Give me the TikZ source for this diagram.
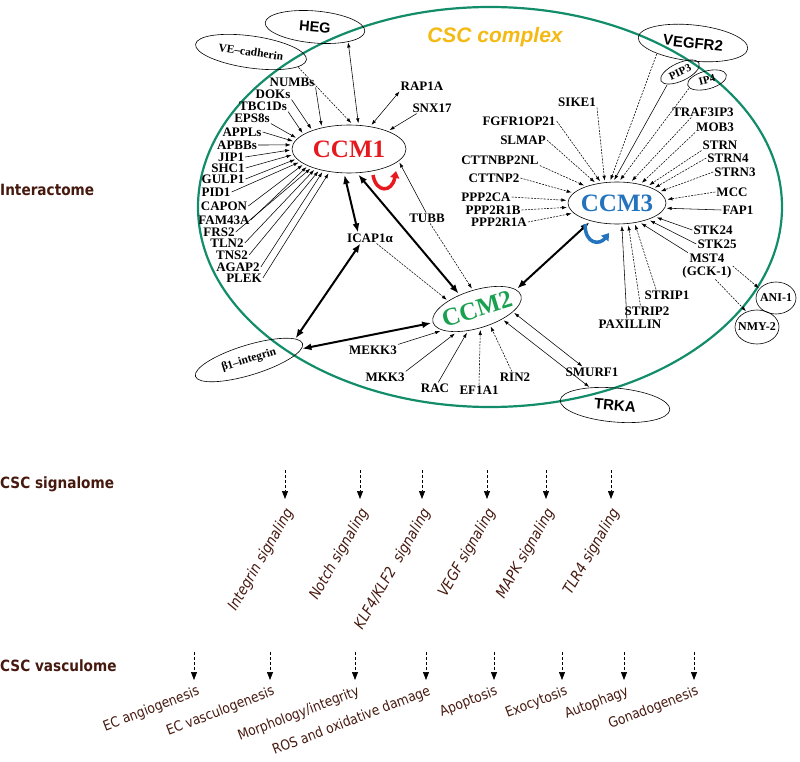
\documentclass[tikz,border=0pt]{standalone}
\usepackage{fontspec}
\setmainfont{Liberation Serif}
\newfontfamily\arialfont{Liberation Sans}
\newfontfamily\tahfont[FakeStretch=0.88]{DejaVu Sans}
\usetikzlibrary{shapes.geometric,arrows.meta}

\definecolor{ringgreen}{RGB}{18,140,105}
\definecolor{cscgold}{RGB}{245,185,20}
\definecolor{ccmred}{RGB}{230,25,30}
\definecolor{ccmgreen}{RGB}{25,160,80}
\definecolor{ccmblue}{RGB}{35,115,190}
\definecolor{headbrown}{RGB}{70,25,15}

\newcommand{\ovtext}[1]{\makebox[0pt]{#1}}

\tikzset{
  prot/.style={font=\bfseries\fontsize{13}{13}\selectfont, inner sep=1pt},
  oval/.style={draw, ellipse, line width=0.6pt, inner sep=0pt, outer sep=1pt},
  ccmoval/.style={oval, outer sep=2pt, font=\bfseries\fontsize{25}{25}\selectfont},
  tip/.style={-{Latex[length=5pt,width=3.5pt]}, line width=0.55pt},
  twotip/.style={{Latex[length=5pt,width=3.5pt]}-{Latex[length=5pt,width=3.5pt]}, line width=0.55pt},
  dtip/.style={tip, dash pattern=on 2pt off 1.2pt},
  heavy/.style={{Latex[length=9pt,width=7pt]}-{Latex[length=9pt,width=7pt]}, line width=2pt},
  sechead/.style={font=\tahfont\bfseries\fontsize{15.5}{15.5}\selectfont, text=headbrown, anchor=west, inner sep=0pt},
  pathway/.style={font=\tahfont\itshape\fontsize{15}{15}\selectfont, text=headbrown, anchor=east, rotate=60, inner sep=0pt},
  outcome/.style={font=\tahfont\fontsize{14}{14}\selectfont, text=headbrown, anchor=east, rotate=21, inner sep=0pt},
  downtip/.style={-{Triangle[length=8pt,width=6pt]}, dash pattern=on 3pt off 2pt, line width=0.7pt},
}

\begin{document}
\begin{tikzpicture}[x=1pt,y=-1pt]
\useasboundingbox (0,0) rectangle (800,762);

\draw[ringgreen, line width=2.2pt] (490,207) ellipse [x radius=292, y radius=200];
\node[font=\arialfont\bfseries\itshape\fontsize{21}{21}\selectfont, text=cscgold] (cplx) at (495,37) {CSC complex};

\node[sechead] (interact) at (0,190) {Interactome};
\node[sechead] (signal) at (0,484) {CSC signalome};
\node[sechead] (vascul) at (0,666) {CSC vasculome};

\node[ccmoval, minimum width=114, minimum height=48, text=ccmred] (ccm1) at (349,149) {\ovtext{CCM1}};
\node[ccmoval, minimum width=98, minimum height=42, text=ccmblue] (ccm3) at (617,203) {\ovtext{CCM3}};
\node[ccmoval, minimum width=92, minimum height=38, text=ccmgreen, rotate=17] (ccm2) at (477,309) {\ovtext{CCM2}};

\node[oval, minimum width=100, minimum height=32, rotate=-5, font=\arialfont\bfseries\fontsize{14.5}{14.5}\selectfont] (heg) at (315,27) {\ovtext{HEG}};
\node[oval, minimum width=112, minimum height=32, rotate=-8, font=\bfseries\fontsize{11.5}{11.5}\selectfont] (vecad) at (251,52) {\ovtext{VE--cadherin}};
\node[oval, minimum width=110, minimum height=36, rotate=-6, font=\arialfont\bfseries\fontsize{15}{15}\selectfont] (vegf) at (693,43) {\ovtext{VEGFR2}};
\node[oval, minimum width=42, minimum height=18, rotate=25, font=\bfseries\fontsize{11}{11}\selectfont] (pip) at (680,72) {\ovtext{PIP3}};
\node[oval, minimum width=40, minimum height=18, rotate=15, font=\bfseries\fontsize{11}{11}\selectfont] (ip) at (707,80) {\ovtext{IP4}};
\node[oval, minimum width=112, minimum height=30, rotate=17, font=\bfseries\fontsize{11.5}{11.5}\selectfont] (b1int) at (249,360) {\ovtext{β1--integrin}};
\node[oval, minimum width=110, minimum height=34, rotate=-5, font=\arialfont\bfseries\fontsize{15}{15}\selectfont] (trka) at (615,405) {\ovtext{TRKA}};
\node[oval, minimum width=40, minimum height=32, font=\bfseries\fontsize{12}{12}\selectfont] (ani) at (776,298) {\ovtext{ANI-1}};
\node[oval, minimum width=44, minimum height=34, font=\bfseries\fontsize{12}{12}\selectfont] (nmy) at (757,327) {\ovtext{NMY-2}};

\node[prot] (numbs) at (292,82) {NUMBs};
\node[prot] (doks) at (273,94) {DOKs};
\node[prot] (tbc) at (263,106) {TBC1Ds};
\node[prot] (eps) at (252,118) {EPS8s};
\node[prot] (appl) at (242,132) {APPLs};
\node[prot] (apbb) at (237,145) {APBBs};
\node[prot] (jip) at (231,157) {JIP1};
\node[prot] (shc) at (228,168) {SHC1};
\node[prot] (gulp) at (223,179) {GULP1};
\node[prot] (pid) at (216,192) {PID1};
\node[prot] (capon) at (224,206) {CAPON};
\node[prot] (fam) at (224,220) {FAM43A};
\node[prot] (frs) at (219,232) {FRS2};
\node[prot] (tln) at (227,243) {TLN2};
\node[prot] (tns) at (232,255) {TNS2};
\node[prot] (agap) at (238,267) {AGAP2};
\node[prot] (plek) at (244,278) {PLEK};

\node[prot] (rap) at (422,86) {RAP1A};
\node[prot] (snx) at (432,108) {SNX17};
\node[prot] (tubb) at (427,218) {TUBB};
\node[prot] (icap) at (370,238) {ICAP1α};

\node[prot] (sike) at (577,102) {SIKE1};
\node[prot] (fgfr) at (519,121) {FGFR1OP21};
\node[prot] (slmap) at (523,140) {SLMAP};
\node[prot] (cttnbp) at (500,160) {CTTNBP2NL};
\node[prot] (cttnp) at (494,178) {CTTNP2};
\node[prot] (pppca) at (486,197) {PPP2CA};
\node[prot] (pppb) at (493,210) {PPP2R1B};
\node[prot] (pppa) at (499,222) {PPP2R1A};
\node[prot] (traf) at (703,112) {TRAF3IP3};
\node[prot] (mob) at (715,127) {MOB3};
\node[prot] (strn) at (720,145) {STRN};
\node[prot] (strnf) at (728,158) {STRN4};
\node[prot] (strnt) at (735,172) {STRN3};
\node[prot] (mcc) at (732,192) {MCC};
\node[prot] (fap) at (738,210) {FAP1};
\node[prot] (stka) at (713,230) {STK24};
\node[prot] (stkb) at (717,244) {STK25};
\node[prot, align=center] (mst) at (707,266) {MST4\\(GCK-1)};
\node[prot] (stripa) at (667,295) {STRIP1};
\node[prot] (stripb) at (647,311) {STRIP2};
\node[prot] (pax) at (630,324) {PAXILLIN};

\node[prot] (mekk) at (373,350) {MEKK3};
\node[prot] (mkk) at (385,377) {MKK3};
\node[prot] (rac) at (435,388) {RAC};
\node[prot] (ef) at (479,390) {EF1A1};
\node[prot] (rin) at (515,377) {RIN2};
\node[prot] (smurf) at (592,372) {SMURF1};

\draw[tip] (numbs.south east) -- (ccm1.140);
\draw[tip] (doks.south east) -- (ccm1.152);
\draw[tip] (tbc.south east) -- (ccm1.161);
\draw[tip] (eps.south east) -- (ccm1.168);
\draw[tip] (appl.east) -- (ccm1.172);
\draw[tip] (apbb.east) -- (ccm1.176);
\draw[tip] (jip.east) -- (ccm1.181);
\draw[tip] (shc.east) -- (ccm1.186);
\draw[tip] (gulp.east) -- (ccm1.191);
\draw[tip] (pid.east) -- (ccm1.195);
\draw[tip] (capon.east) -- (ccm1.199);
\draw[tip] (fam.east) -- (ccm1.203);
\draw[tip] (frs.east) -- (ccm1.207);
\draw[tip] (tln.east) -- (ccm1.211);
\draw[tip] (tns.east) -- (ccm1.216);
\draw[tip] (agap.east) -- (ccm1.221);
\draw[tip] (plek.east) -- (ccm1.230);

\draw[dtip] (vecad.-10) -- (ccm1.85);
\draw[twotip] (heg.-20) -- (ccm1.70);
\draw[twotip] (rap.south west) -- (ccm1.47);
\draw[tip] (snx.200) -- (ccm1.25);
\draw[tip] (tubb.100) -- (ccm1.-15);
\draw[dtip] (tubb.-60) -- (ccm2.87);
\draw[dtip] (icap.-40) -- (ccm2.146);
\draw[heavy] (ccm1.-100) -- (icap.155);
\draw[heavy] (ccm1.-70) -- (ccm2.123);
\draw[heavy] (icap.-150) -- (b1int.8);
\draw[heavy] (b1int.-5) -- (ccm2.west);
\draw[heavy] (ccm3.215) -- (ccm2.10);

\draw[dtip] (sike.south east) -- (ccm3.119);
\draw[dtip] (fgfr.east) -- (ccm3.128);
\draw[dtip] (slmap.east) -- (ccm3.137);
\draw[dtip] (cttnbp.south east) -- (ccm3.152);
\draw[dtip] (cttnp.east) -- (ccm3.167);
\draw[dtip] (pppca.east) -- (ccm3.177);
\draw[dtip] (pppb.east) -- (ccm3.185);
\draw[dtip] (pppa.east) -- (ccm3.193);
\draw[dtip] (vegf.203) -- (ccm3.106);
\draw[tip] (pip.200) -- (ccm3.97);
\draw[dtip] (ip.190) -- (ccm3.82);
\draw[dtip] (traf.205) -- (ccm3.56);
\draw[dtip] (mob.south west) -- (ccm3.39);
\draw[dtip] (strn.south west) -- (ccm3.29);
\draw[dtip] (strnf.west) -- (ccm3.22);
\draw[dtip] (strnt.west) -- (ccm3.15);
\draw[dtip] (mcc.west) -- (ccm3.4);
\draw[tip] (fap.west) -- (ccm3.-6);
\draw[tip] (stka.west) -- (ccm3.-20);
\draw[tip] (stkb.west) -- (ccm3.-28);
\draw[tip] (mst.145) -- (ccm3.-40);
\draw[dtip] (stripa.153) -- (ccm3.-50);
\draw[dtip] (stripb.140) -- (ccm3.-63);
\draw[tip] (pax.120) -- (ccm3.-78);
\draw[dtip] (mst.east) -- (ani.150);
\draw[dtip] (mst.-58) -- (nmy.125);

\draw[tip] (mekk.north east) -- (ccm2.194);
\draw[tip] (mkk.north east) -- (ccm2.211);
\draw[tip] (rac.60) -- (ccm2.230);
\draw[dtip] (ef.north) -- (ccm2.262);
\draw[dtip] (rin.120) -- (ccm2.291);
\draw[twotip] (smurf.150) -- (ccm2.-23);
\draw[twotip] (trka.150) -- (ccm2.-40);

\draw[ccmred, line width=3.5pt, -{Triangle[length=7pt,width=9pt]}] (373,175) .. controls (376,193) and (392,193) .. (396,171);
\draw[ccmblue, line width=3.5pt, -{Triangle[length=7pt,width=9pt]}] (585,224) .. controls (585,245) and (600,245) .. (609,233);

\coordinate (sa1) at (285,470); \coordinate (sb1) at (285,499);
\coordinate (sa2) at (360,470); \coordinate (sb2) at (360,499);
\coordinate (sa3) at (422,470); \coordinate (sb3) at (422,499);
\coordinate (sa4) at (487,470); \coordinate (sb4) at (487,499);
\coordinate (sa5) at (546,470); \coordinate (sb5) at (546,499);
\coordinate (sa6) at (611,470); \coordinate (sb6) at (611,499);
\draw[downtip] (sa1) -- (sb1);
\draw[downtip] (sa2) -- (sb2);
\draw[downtip] (sa3) -- (sb3);
\draw[downtip] (sa4) -- (sb4);
\draw[downtip] (sa5) -- (sb5);
\draw[downtip] (sa6) -- (sb6);
\node[pathway] (integ) at (290,510) {Integrin signaling};
\node[pathway] (notch) at (365,510) {Notch signaling};
\node[pathway] (klf) at (427,510) {KLF4/KLF2\ \ signaling};
\node[pathway] (vegfs) at (492,510) {VEGF signaling};
\node[pathway] (mapk) at (551,510) {MAPK signaling};
\node[pathway] (tlr) at (616,510) {TLR4 signaling};

\coordinate (va1) at (194,652); \coordinate (vb1) at (194,680);
\coordinate (va2) at (270,652); \coordinate (vb2) at (270,680);
\coordinate (va3) at (355,652); \coordinate (vb3) at (355,680);
\coordinate (va4) at (426,652); \coordinate (vb4) at (426,680);
\coordinate (va5) at (494,652); \coordinate (vb5) at (494,680);
\coordinate (va6) at (562,652); \coordinate (vb6) at (562,680);
\coordinate (va7) at (624,652); \coordinate (vb7) at (624,680);
\coordinate (va8) at (694,652); \coordinate (vb8) at (694,680);
\draw[downtip] (va1) -- (vb1);
\draw[downtip] (va2) -- (vb2);
\draw[downtip] (va3) -- (vb3);
\draw[downtip] (va4) -- (vb4);
\draw[downtip] (va5) -- (vb5);
\draw[downtip] (va6) -- (vb6);
\draw[downtip] (va7) -- (vb7);
\draw[downtip] (va8) -- (vb8);
\node[outcome] (angio) at (199,691) {EC angiogenesis};
\node[outcome] (vasculo) at (274,691) {EC vasculogenesis};
\node[outcome] (morph) at (359,691) {Morphology/integrity};
\node[outcome] (ros) at (430,691) {ROS and oxidative damage};
\node[outcome] (apop) at (497,691) {Apoptosis};
\node[outcome] (exo) at (567,691) {Exocytosis};
\node[outcome] (auto) at (628,691) {Autophagy};
\node[outcome] (gonad) at (698,691) {Gonadogenesis};

\end{tikzpicture}
\end{document}
